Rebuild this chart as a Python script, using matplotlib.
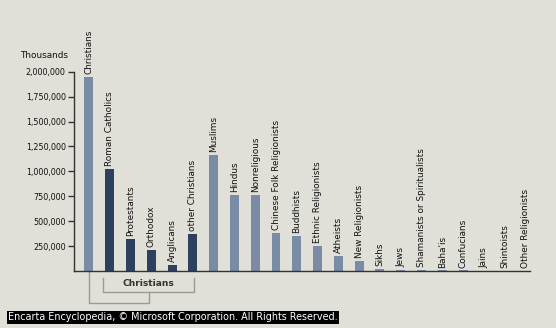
import matplotlib
matplotlib.use("Agg")
import matplotlib.pyplot as plt
import numpy as np

categories = ["Christians", "Roman Catholics", "Protestants", "Orthodox", "Anglicans",
              "other Christians", "Muslims", "Hindus", "Nonreligious",
              "Chinese Folk Religionists", "Buddhists", "Ethnic Religionists", "Atheists",
              "New Religionists", "Sikhs", "Jews", "Shamanists or Spiritualists", "Baha'is",
              "Confucians", "Jains", "Shintoists", "Other Religionists"]
values = [1948000, 1024000, 321000, 211000, 60000, 375000, 1165000, 763000, 763000,
          381000, 354000, 254000, 154000, 103000, 23000, 14000, 12000, 7000, 6000,
          4000, 3000, 1000]
is_sub = [False, True, True, True, True, True] + [False] * 16
yticks = [250000, 500000, 750000, 1000000, 1250000, 1500000, 1750000, 2000000]

BG = "#e0e0d8"
LIGHT = "#7a8ba6"
DARK = "#2e4060"

fig = plt.figure(figsize=(5.56, 3.28), dpi=100, facecolor=BG)
ax = fig.add_axes([74/556, 1-271/328, (530-74)/556, (271-71.7)/328], facecolor=BG)

x = np.arange(len(categories)) * 1.0
colors = [DARK if s else LIGHT for s in is_sub]
ax.bar(x, values, width=0.43, color=colors, zorder=2)

for xi, v, lab in zip(x, values, categories):
    ax.text(xi, v + 28000, lab, rotation=90, ha="center", va="bottom",
            fontsize=6.4, color="#111111", clip_on=False)

ax.set_xlim(-0.72, len(categories) - 1 + 0.22)
ax.set_ylim(0, 2000000)
ax.set_yticks(yticks)
ax.set_yticklabels([f"{t:,}" for t in yticks], fontsize=5.8, color="#111111")
ax.set_xticks([])
for s in ["top", "right"]:
    ax.spines[s].set_visible(False)
for s in ["left", "bottom"]:
    ax.spines[s].set_color("#333333")
    ax.spines[s].set_linewidth(1.0)
ax.tick_params(axis="y", length=4, width=1, color="#333333", pad=2)

fig.text(20/556, 1-56/328, "Thousands", fontsize=6.4, color="#111111", va="center", ha="left")

# grouping bracket (value units per pixel ~ 10040)
vpp = 10040
def yp(p):
    return -(p - 271) * vpp

gc = "#9a9a9a"
lw = 1.0
sub_left = x[1] - 0.32
sub_right = x[5] + 0.05
mid = (sub_left + sub_right) / 2
ax.plot([x[0], x[0], mid, mid], [0, yp(302.7), yp(302.7), yp(291.7)],
        color=gc, lw=lw, clip_on=False, zorder=1)
ax.plot([sub_left, sub_left, sub_right, sub_right],
        [yp(278.3), yp(291.7), yp(291.7), yp(278.3)],
        color=gc, lw=lw, clip_on=False, zorder=1)
ax.text(mid, yp(283), "Christians", ha="center", va="center",
        fontsize=6.6, fontweight="bold", color="#333333", clip_on=False)

# footer
fig.text(8/556, 1-317.5/328, "Encarta Encyclopedia, \u00a9 Microsoft Corporation. All Rights Reserved.",
         fontsize=6.9, color="white", va="center", ha="left",
         bbox=dict(boxstyle="square,pad=0.15", facecolor="black", edgecolor="none"))

fig.savefig("out.png", dpi=100, facecolor=BG)
